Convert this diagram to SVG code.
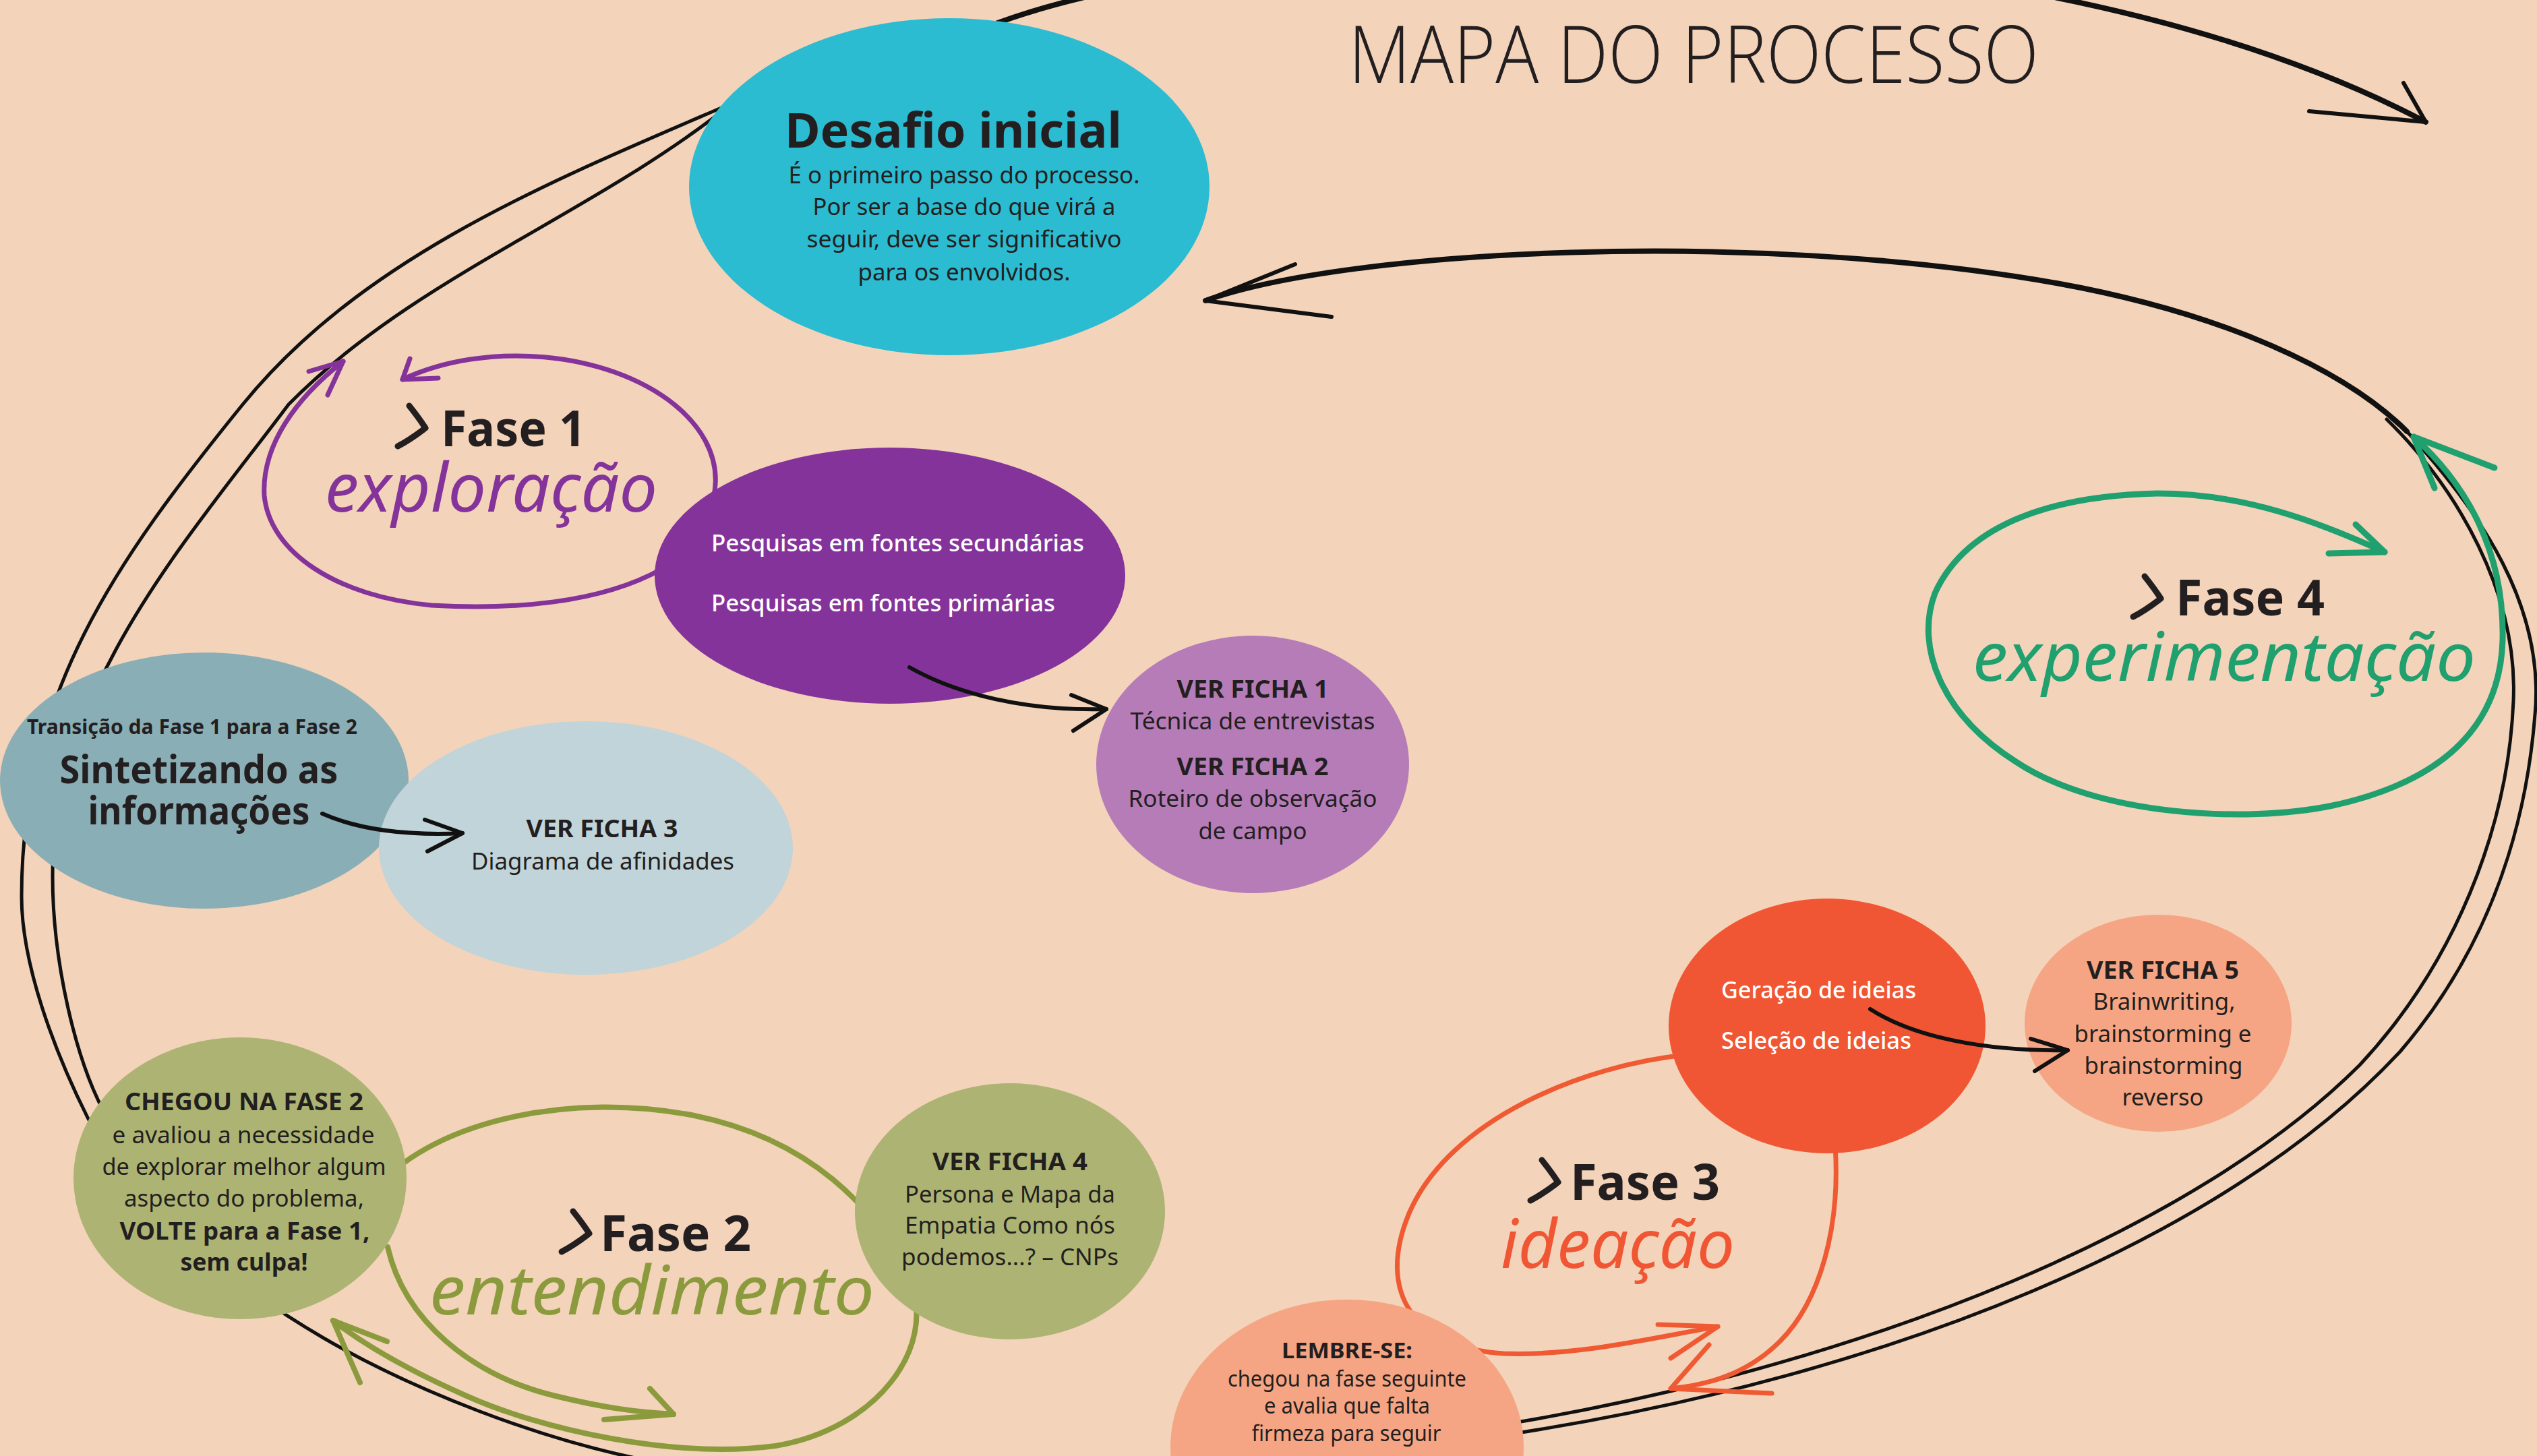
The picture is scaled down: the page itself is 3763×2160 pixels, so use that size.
<svg xmlns="http://www.w3.org/2000/svg" xmlns:xlink="http://www.w3.org/1999/xlink" width="3763" height="2160" viewBox="0 0 3763 2160">
<style>
.t{font-family:"Noto Sans","Liberation Sans",sans-serif;fill:#231f20;font-size:35px}
.b{font-weight:700}
.w{fill:#ffffff;font-weight:500}
.ph{font-family:"Noto Sans","Liberation Sans",sans-serif;font-weight:700;font-size:74px;fill:#231f20}
.sc{font-family:"Noto Sans","Liberation Sans",sans-serif;font-style:italic;font-size:100px}
.ln{fill:none;stroke:#111;stroke-linecap:round;stroke-linejoin:round}
.dbl{stroke-width:5}
.thk{stroke-width:8}
.arr{stroke-width:6}
.pu{fill:none;stroke:#84339a;stroke-width:7;stroke-linecap:round;stroke-linejoin:round}
.ol{fill:none;stroke:#8c9a3e;stroke-width:8;stroke-linecap:round;stroke-linejoin:round}
.or{fill:none;stroke:#ef5a33;stroke-width:7;stroke-linecap:round;stroke-linejoin:round}
.gr{fill:none;stroke:#1fa06e;stroke-width:9;stroke-linecap:round;stroke-linejoin:round}
.chev{fill:none;stroke:#231f20;stroke-width:9;stroke-linecap:round;stroke-linejoin:round}
</style>
<defs>
<path id="chev" d="M0,0 C8,10 17,22 24,33 C12,42 2,50 -17,60"/>
</defs>
<rect x="0" y="0" width="3763" height="2160" fill="#f3d3b9"/>

<g id="title">
<text x="2000" y="123" font-family="'Open Sans','Noto Sans',sans-serif" font-weight="300" font-size="118" fill="#231f20" textLength="1024" lengthAdjust="spacingAndGlyphs">MAPA DO PROCESSO</text>
</g>

<g id="connectors">
<!-- big outer loop, top arc to top-right arrow -->
<path class="ln thk" d="M1440,50 C1800,-110 2950,-160 3598,181"/>
<path class="ln arr" d="M3565,123 L3598,181 L3425,165"/>
<!-- right loop from Desafio arrow -->
<path class="ln thk" d="M1788,446 C2000,370 2600,340 3050,420 C3300,465 3480,550 3570,640"/>
<path class="ln arr" d="M1921,392 L1788,446 L1975,470"/>
<path class="ln dbl" d="M3570,640 C3680,760 3775,900 3760,1060 C3745,1250 3680,1420 3560,1560 C3300,1840 2800,2040 2250,2126"/>
<path class="ln dbl" d="M3540,622 C3645,725 3735,880 3728,1040 C3720,1230 3640,1430 3500,1580 C3260,1820 2780,2020 2250,2110"/>
<!-- left loop -->
<path class="ln dbl" d="M1100,147 C834,262 543,375 360,600 C171,833 32,1030 32,1330 C32,1430 80,1558 130,1658 C200,1795 360,1915 480,1985 C600,2055 800,2140 990,2172"/>
<path class="ln dbl" d="M1090,150 C880,320 617,408 428,600 C278,800 78,1020 78,1300 C78,1420 110,1573 160,1660"/>
<!-- Fase 1 purple loop -->
<path class="pu" d="M597,563 C720,505 900,520 1000,600 C1080,665 1090,760 980,845 C890,895 760,905 640,898 C500,885 400,820 392,735 C388,660 440,590 509,536"/>
<path class="pu" d="M608,532 L597,563 L650,561"/>
<path class="pu" d="M458,551 L509,536 L486,586"/>
<!-- Fase 2 olive loop -->
<path class="ol" d="M560,1760 C650,1660 850,1620 1030,1655 C1200,1690 1300,1790 1350,1900 C1390,2000 1300,2120 1150,2145 C1000,2165 800,2120 690,2070 C600,2030 540,1995 494,1959"/>
<path class="ol" d="M534,2051 L494,1959 L574,1990"/>
<path class="ol" d="M575,1850 C600,1960 700,2040 820,2070 C900,2090 950,2095 999,2098"/>
<path class="ol" d="M896,2106 L999,2098 L964,2060"/>
<!-- Fase 3 orange loop -->
<path class="or" d="M2500,1565 C2350,1580 2150,1660 2090,1800 C2040,1920 2100,2000 2230,2008 C2340,2012 2450,1985 2548,1968"/>
<path class="or" d="M2459,1965 L2548,1968 L2478,2015"/>
<path class="or" d="M2722,1700 C2730,1820 2700,1930 2640,1990 C2590,2040 2530,2055 2478,2060"/>
<path class="or" d="M2535,1995 L2478,2060 L2628,2067"/>
<!-- Fase 4 green loop -->
<path class="gr" d="M3580,648 C3660,720 3715,820 3712,950 C3708,1080 3620,1160 3460,1195 C3330,1222 3110,1210 2990,1130 C2880,1060 2840,960 2870,880 C2920,770 3060,735 3200,732 C3330,732 3440,775 3537,819"/>
<path class="gr" d="M3611,724 L3580,648 L3700,694"/>
<path class="gr" d="M3494,778 L3537,819 L3454,821"/>
</g>

<g id="node-desafio">
<ellipse cx="1408" cy="277" rx="386" ry="250" fill="#2bbcd2"/>
<text class="t b" x="1414" y="219" style="font-size:72px" text-anchor="middle" textLength="500" lengthAdjust="spacingAndGlyphs">Desafio inicial</text>
<text class="t" x="1430" y="272" style="font-size:34px" text-anchor="middle" textLength="521" lengthAdjust="spacingAndGlyphs">É o primeiro passo do processo.</text>
<text class="t" x="1430" y="319" style="font-size:34px" text-anchor="middle" textLength="449" lengthAdjust="spacingAndGlyphs">Por ser a base do que virá a</text>
<text class="t" x="1430" y="367" style="font-size:34px" text-anchor="middle" textLength="467" lengthAdjust="spacingAndGlyphs">seguir, deve ser significativo</text>
<text class="t" x="1430" y="416" style="font-size:34px" text-anchor="middle" textLength="315" lengthAdjust="spacingAndGlyphs">para os envolvidos.</text>
</g>

<g id="node-pesquisas">
<ellipse cx="1320" cy="854" rx="349" ry="190" fill="#84339a"/>
<text class="t w" x="1055" y="818" style="font-size:34px" textLength="553" lengthAdjust="spacingAndGlyphs">Pesquisas em fontes secundárias</text>
<text class="t w" x="1055" y="907" style="font-size:34px" textLength="510" lengthAdjust="spacingAndGlyphs">Pesquisas em fontes primárias</text>
</g>

<g id="node-ficha12">
<ellipse cx="1858" cy="1134" rx="232" ry="191" fill="#b57cb8"/>
<text class="t b" x="1858" y="1035" text-anchor="middle" textLength="225" lengthAdjust="spacingAndGlyphs">VER FICHA 1</text>
<text class="t" x="1858" y="1082" text-anchor="middle" textLength="363" lengthAdjust="spacingAndGlyphs">Técnica de entrevistas</text>
<text class="t b" x="1858" y="1150" text-anchor="middle" textLength="225" lengthAdjust="spacingAndGlyphs">VER FICHA 2</text>
<text class="t" x="1858" y="1197" text-anchor="middle" textLength="369" lengthAdjust="spacingAndGlyphs">Roteiro de observação</text>
<text class="t" x="1858" y="1245" text-anchor="middle" textLength="161" lengthAdjust="spacingAndGlyphs">de campo</text>
</g>

<g id="node-sintetizando">
<ellipse cx="303" cy="1158" rx="303" ry="190" fill="#8aaeb6"/>
<text class="t b" x="285" y="1089" style="font-size:30px" text-anchor="middle" textLength="490" lengthAdjust="spacingAndGlyphs">Transição da Fase 1 para a Fase 2</text>
<text class="t b" x="295" y="1162" style="font-size:57px" text-anchor="middle" textLength="413" lengthAdjust="spacingAndGlyphs">Sintetizando as</text>
<text class="t b" x="295" y="1223" style="font-size:57px" text-anchor="middle" textLength="329" lengthAdjust="spacingAndGlyphs">informações</text>
</g>

<g id="node-ficha3">
<ellipse cx="869" cy="1258" rx="307" ry="188" fill="#c1d4d9"/>
<text class="t b" x="893" y="1242" text-anchor="middle" textLength="225" lengthAdjust="spacingAndGlyphs">VER FICHA 3</text>
<text class="t" x="894" y="1290" text-anchor="middle" textLength="390" lengthAdjust="spacingAndGlyphs">Diagrama de afinidades</text>
</g>

<g id="node-chegou">
<ellipse cx="356" cy="1748" rx="247" ry="209" fill="#adb473"/>
<text class="t b" x="362" y="1647" text-anchor="middle" textLength="354" lengthAdjust="spacingAndGlyphs">CHEGOU NA FASE 2</text>
<text class="t" x="361" y="1696" text-anchor="middle" textLength="389" lengthAdjust="spacingAndGlyphs">e avaliou a necessidade</text>
<text class="t" x="362" y="1743" text-anchor="middle" textLength="421" lengthAdjust="spacingAndGlyphs">de explorar melhor algum</text>
<text class="t" x="362" y="1790" text-anchor="middle" textLength="356" lengthAdjust="spacingAndGlyphs">aspecto do problema,</text>
<text class="t b" x="363" y="1839" text-anchor="middle" textLength="371" lengthAdjust="spacingAndGlyphs">VOLTE para a Fase 1,</text>
<text class="t b" x="362" y="1885" text-anchor="middle" textLength="189" lengthAdjust="spacingAndGlyphs">sem culpa!</text>
</g>

<g id="node-ficha4">
<ellipse cx="1498" cy="1797" rx="230" ry="190" fill="#adb473"/>
<text class="t b" x="1498" y="1736" text-anchor="middle" textLength="230" lengthAdjust="spacingAndGlyphs">VER FICHA 4</text>
<text class="t" x="1498" y="1784" text-anchor="middle" textLength="312" lengthAdjust="spacingAndGlyphs">Persona e Mapa da</text>
<text class="t" x="1498" y="1830" text-anchor="middle" textLength="312" lengthAdjust="spacingAndGlyphs">Empatia Como nós</text>
<text class="t" x="1498" y="1877" text-anchor="middle" textLength="322" lengthAdjust="spacingAndGlyphs">podemos...? – CNPs</text>
</g>

<g id="node-ideias">
<ellipse cx="2710" cy="1522" rx="235" ry="189" fill="#f05633"/>
<text class="t w" x="2553" y="1481" style="font-size:34px" textLength="289" lengthAdjust="spacingAndGlyphs">Geração de ideias</text>
<text class="t w" x="2553" y="1556" style="font-size:34px" textLength="282" lengthAdjust="spacingAndGlyphs">Seleção de ideias</text>
</g>

<g id="node-ficha5">
<ellipse cx="3201" cy="1518" rx="198" ry="161" fill="#f5a583"/>
<text class="t b" x="3208" y="1452" text-anchor="middle" textLength="226" lengthAdjust="spacingAndGlyphs">VER FICHA 5</text>
<text class="t" x="3210" y="1498" text-anchor="middle" textLength="211" lengthAdjust="spacingAndGlyphs">Brainwriting,</text>
<text class="t" x="3208" y="1546" text-anchor="middle" textLength="263" lengthAdjust="spacingAndGlyphs">brainstorming e</text>
<text class="t" x="3209" y="1593" text-anchor="middle" textLength="235" lengthAdjust="spacingAndGlyphs">brainstorming</text>
<text class="t" x="3208" y="1640" text-anchor="middle" textLength="121" lengthAdjust="spacingAndGlyphs">reverso</text>
</g>

<g id="node-lembre">
<ellipse cx="1998" cy="2147" rx="262" ry="219" fill="#f5a583"/>
<text class="t b" x="1998" y="2015" style="font-size:32px" text-anchor="middle" textLength="194" lengthAdjust="spacingAndGlyphs">LEMBRE-SE:</text>
<text class="t" x="1998" y="2057" style="font-size:32px" text-anchor="middle" textLength="354" lengthAdjust="spacingAndGlyphs">chegou na fase seguinte</text>
<text class="t" x="1998" y="2097" style="font-size:32px" text-anchor="middle" textLength="246" lengthAdjust="spacingAndGlyphs">e avalia que falta</text>
<text class="t" x="1997" y="2138" style="font-size:32px" text-anchor="middle" textLength="281" lengthAdjust="spacingAndGlyphs">firmeza para seguir</text>
</g>

<g id="phase-1">
<use xlink:href="#chev" href="#chev" x="607" y="602" class="chev"/>
<text class="ph" x="654" y="662" textLength="215" lengthAdjust="spacingAndGlyphs">Fase 1</text>
<text class="sc" x="482" y="759" fill="#84339a" textLength="493" lengthAdjust="spacingAndGlyphs">exploração</text>
</g>

<g id="phase-2">
<use xlink:href="#chev" href="#chev" x="850" y="1797" class="chev"/>
<text class="ph" x="890" y="1856" textLength="224" lengthAdjust="spacingAndGlyphs">Fase 2</text>
<text class="sc" x="637" y="1950" fill="#8c9a3e" textLength="660" lengthAdjust="spacingAndGlyphs">entendimento</text>
</g>

<g id="phase-3">
<use xlink:href="#chev" href="#chev" x="2287" y="1721" class="chev"/>
<text class="ph" x="2329" y="1780" textLength="222" lengthAdjust="spacingAndGlyphs">Fase 3</text>
<text class="sc" x="2226" y="1881" fill="#f05633" textLength="347" lengthAdjust="spacingAndGlyphs">ideação</text>
</g>

<g id="phase-4">
<use xlink:href="#chev" href="#chev" x="3181" y="855" class="chev"/>
<text class="ph" x="3227" y="913" textLength="221" lengthAdjust="spacingAndGlyphs">Fase 4</text>
<text class="sc" x="2926" y="1010" fill="#1fa06e" textLength="746" lengthAdjust="spacingAndGlyphs">experimentação</text>
</g>

<g id="connectors-front">
<path class="ln arr" d="M1349,990 C1420,1030 1520,1055 1641,1052"/>
<path class="ln arr" d="M1589,1031 L1641,1052 L1592,1084"/>
<path class="ln arr" d="M478,1207 C530,1230 600,1240 686,1236"/>
<path class="ln arr" d="M630,1216 L686,1236 L634,1263"/>
<path class="ln arr" d="M2774,1497 C2840,1540 2950,1560 3067,1558"/>
<path class="ln arr" d="M3012,1541 L3067,1558 L3018,1589"/>
</g>
</svg>
